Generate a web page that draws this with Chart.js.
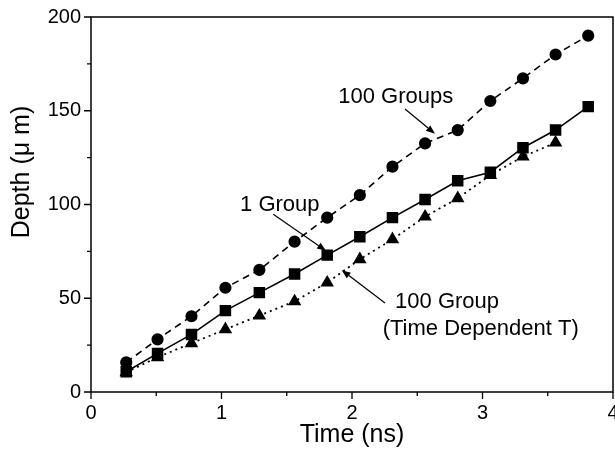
<!DOCTYPE html>
<html>
<head>
<meta charset="utf-8">
<script src="https://cdn.jsdelivr.net/npm/chart.js@4"></script>
<style>
  html, body { margin: 0; padding: 0; background: #fff; }
  canvas { display: block; }
</style>
</head>
<body>
<canvas id="chart" width="615" height="451"></canvas>
<script>
/* ── Data ───────────────────────────────────────────────────────── */
const timeNs      = [0.27, 0.51, 0.77, 1.03, 1.29, 1.56, 1.81, 2.06, 2.31, 2.56, 2.81, 3.06, 3.31, 3.56, 3.81];
const groups100   = [15.8, 28.1, 40.4, 55.6, 65.1, 80.2, 93.0, 105.0, 120.2, 132.6, 139.7, 155.2, 167.3, 180.0, 190.1];
const group1      = [10.8, 20.6, 30.7, 43.4, 53.0, 62.9, 73.0, 82.8, 93.0, 102.7, 112.7, 117.2, 130.3, 139.7, 152.2];
const group100T   = [10.5, 18.5, 26.0, 33.4, 40.7, 48.3, 58.3, 70.8, 81.4, 93.5, 103.3, 115.7, 125.5, 133.0];

const xRange = [0, 4];
const yRange = [0, 200];

/* ── Annotations (data units) ───────────────────────────────────── */
const notes = [
  { text: '100 Groups',         x: 1.895, y: 154 },
  { text: '1 Group',            x: 1.142, y: 96.7 },
  { text: '100 Group',          x: 2.33,  y: 44.6 },
  { text: '(Time Dependent T)', x: 2.235, y: 30.3 },
];
const arrows = [
  { from: [2.406, 150.9], to: [2.636, 137.7] },
  { from: [1.397, 94.8],  to: [1.801, 75.3] },
  { from: [2.253, 47.5],  to: [1.921, 65.0] },
];

const FONT = '"Liberation Sans", Arial, Helvetica, sans-serif';

function pts(ys) {
  return ys.map((v, i) => ({ x: timeNs[i], y: v }));
}

/* ── Frame, tick marks, labels and arrows ───────────────────────── */
const decor = {
  id: 'decor',
  afterDatasetsDraw(chart) {
    const { ctx, chartArea: a, scales: { x, y } } = chart;
    ctx.save();
    ctx.strokeStyle = '#000';
    ctx.fillStyle = '#000';
    ctx.lineWidth = 1.5;
    ctx.setLineDash([]);
    ctx.strokeRect(a.left, a.top, a.right - a.left, a.bottom - a.top);

    // outward ticks, minor ones shorter
    ctx.lineWidth = 1.3;
    ctx.beginPath();
    x.ticks.forEach(t => {
      const px = x.getPixelForValue(t.value);
      const len = Number.isInteger(t.value) ? 7 : 4;
      ctx.moveTo(px, a.bottom); ctx.lineTo(px, a.bottom + len);
    });
    y.ticks.forEach(t => {
      const py = y.getPixelForValue(t.value);
      const len = t.value % 50 === 0 ? 7 : 4;
      ctx.moveTo(a.left, py); ctx.lineTo(a.left - len, py);
    });
    ctx.stroke();

    // curve labels
    ctx.font = '22px ' + FONT;
    ctx.textAlign = 'left';
    ctx.textBaseline = 'alphabetic';
    notes.forEach(n => ctx.fillText(n.text, x.getPixelForValue(n.x), y.getPixelForValue(n.y)));

    // arrows
    ctx.lineWidth = 1.2;
    arrows.forEach(ar => {
      const x0 = x.getPixelForValue(ar.from[0]), y0 = y.getPixelForValue(ar.from[1]);
      const x1 = x.getPixelForValue(ar.to[0]),   y1 = y.getPixelForValue(ar.to[1]);
      const ang = Math.atan2(y1 - y0, x1 - x0);
      const hl = 9, hw = 3.5;
      const bx = x1 - hl * Math.cos(ang), by = y1 - hl * Math.sin(ang);
      ctx.beginPath();
      ctx.moveTo(x0, y0); ctx.lineTo(bx, by);
      ctx.stroke();
      ctx.beginPath();
      ctx.moveTo(x1, y1);
      ctx.lineTo(bx + hw * Math.sin(ang), by - hw * Math.cos(ang));
      ctx.lineTo(bx - hw * Math.sin(ang), by + hw * Math.cos(ang));
      ctx.closePath();
      ctx.fill();
    });

    // y axis title (sits above the plot's centre in the figure)
    ctx.save();
    ctx.font = '25px ' + FONT;
    ctx.textAlign = 'center';
    ctx.translate(29, 172);
    ctx.rotate(-Math.PI / 2);
    ctx.fillText('Depth (\u03bc m)', 0, 0);
    ctx.restore();

    ctx.restore();
  }
};

/* ── Chart ──────────────────────────────────────────────────────── */
new Chart(document.getElementById('chart').getContext('2d'), {
  type: 'line',
  data: {
    datasets: [
      {
        label: '100 Groups',
        data: pts(groups100),
        borderColor: '#000', backgroundColor: '#000',
        borderWidth: 1.6, borderDash: [7, 5],
        pointStyle: 'circle', pointRadius: 5.3,
      },
      {
        label: '1 Group',
        data: pts(group1),
        borderColor: '#000', backgroundColor: '#000',
        borderWidth: 1.6,
        pointStyle: 'rect', pointRadius: 7,
      },
      {
        label: '100 Group (Time Dependent T)',
        data: pts(group100T),
        borderColor: '#000', backgroundColor: '#000',
        borderWidth: 1.8, borderDash: [2, 4],
        pointStyle: 'triangle', pointRadius: 6,
      },
    ]
  },
  options: {
    responsive: false,
    animation: false,
    clip: false,
    layout: { autoPadding: false, padding: { top: 17, right: 2, left: 0, bottom: 0 } },
    plugins: { legend: { display: false }, tooltip: { enabled: false } },
    elements: { line: { tension: 0 }, point: { borderWidth: 0 } },
    scales: {
      x: {
        type: 'linear', min: xRange[0], max: xRange[1],
        grid: { display: false, drawTicks: false },
        border: { display: false },
        ticks: {
          stepSize: 0.5, padding: 9, color: '#000', maxRotation: 0, autoSkip: false,
          font: { family: FONT, size: 20 },
          callback: v => Number.isInteger(v) ? String(v) : ''
        },
        title: {
          display: true, text: 'Time (ns)', color: '#000',
          font: { family: FONT, size: 25, lineHeight: 1 },
          padding: { top: 0, bottom: 3 }
        },
        afterFit: s => { s.height = 59; s.paddingLeft = 0; s.paddingRight = 0; }
      },
      y: {
        type: 'linear', min: yRange[0], max: yRange[1],
        grid: { display: false, drawTicks: false },
        border: { display: false },
        ticks: {
          stepSize: 25, padding: 10, color: '#000', autoSkip: false,
          font: { family: FONT, size: 20 },
          callback: v => v % 50 === 0 ? String(v) : ''
        },
        afterFit: s => { s.width = 91; s.paddingTop = 0; s.paddingBottom = 0; }
      }
    }
  },
  plugins: [decor]
});
</script>
</body>
</html>
